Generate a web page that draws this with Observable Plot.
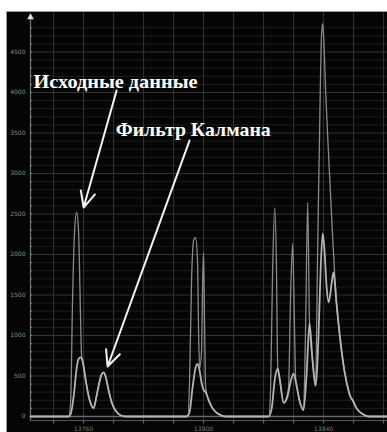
<!DOCTYPE html>
<html><head><meta charset="utf-8">
<script src="https://cdn.jsdelivr.net/npm/d3@7"></script>
<script src="https://cdn.jsdelivr.net/npm/@observablehq/plot@0.6"></script>
<style>
html,body{margin:0;padding:0;background:#fff;width:387px;height:432px;overflow:hidden}
#frame{position:absolute;left:6px;top:11px;width:380px;height:420px;border-top:1px solid #9a9a9a;border-left:1px solid #9a9a9a;background:#050505}
#frame svg{display:block}
</style></head><body><div id="frame"></div>
<script>
// Series names (annotation labels)
const seriesNames = ["Исходные данные", "Фильтр Калмана"];

// Raw data: [sample index, value]
const rawData = [
  [13742.3,0],[13755,0],[13755.7,200],[13756.3,1400],[13757,2300],[13757.7,2520],[13758.3,2300],[13759,1200],
  [13759.3,760],[13759.7,680],[13760.7,450],[13761.7,250],[13762.7,130],[13763.3,100],[13764.3,250],[13765.3,430],
  [13766,520],[13766.7,545],[13767.3,500],[13768.3,330],[13769.3,180],[13770.7,70],[13772.3,15],[13774,0],
  [13794.7,0],[13795.3,400],[13796,1700],[13796.7,2180],[13797.3,2210],[13798,1900],[13798.3,1100],[13798.7,600],
  [13799.3,800],[13799.7,1700],[13800,2025],[13800.3,1200],[13800.7,350],[13801.7,200],[13803,100],[13805,30],[13807.3,0],
  [13821.7,0],[13822.3,300],[13823,1800],[13823.7,2580],[13824.3,1800],[13824.7,620],[13825.3,480],[13826.7,170],
  [13828.3,350],[13829,1500],[13829.7,2136],[13830.3,1100],[13830.7,460],[13831,380],[13832.3,150],[13833.3,80],
  [13834,1100],[13834.7,2642],[13835.3,1150],[13836.3,700],[13837.3,380],[13838,2000],[13838.7,3600],[13839.3,4700],
  [13839.7,4850],[13840,4700],[13840.7,4000],[13841.7,3200],[13842.7,2450],[13843.7,1750],[13844.3,1400],[13845.7,900],
  [13847,550],[13848.3,320],[13849,240],[13849.7,200],[13851,100],[13853,30],[13855,0],[13861.3,0]
];

// Kalman filter output: [sample index, value]
const kalmanData = [
  [13742.3,0],[13755,0],[13755.7,30],[13756.7,250],[13757.7,600],[13758.3,710],[13759,730],[13759.7,680],
  [13760.7,450],[13761.7,250],[13762.7,130],[13763.3,100],[13764.3,250],[13765.3,430],[13766,520],[13766.7,545],
  [13767.3,500],[13768.3,330],[13769.3,180],[13770.7,70],[13772.3,15],[13774,0],
  [13794.3,0],[13795.3,50],[13796.3,350],[13797.3,600],[13798,650],[13798.7,560],[13799.3,420],[13800,330],
  [13800.7,300],[13801.7,200],[13803,100],[13805,30],[13807.3,0],
  [13821.7,0],[13822.7,100],[13823.7,450],[13824.7,590],[13825.3,480],[13826.7,170],[13828,250],[13829,430],
  [13830,530],[13831,380],[13832.3,150],[13833.3,80],[13834.3,500],[13835.3,1150],[13836.3,700],[13837.3,380],
  [13838.3,1000],[13839,1800],[13839.7,2260],[13840.3,2050],[13841,1600],[13841.7,1410],[13842.7,1650],[13843.3,1780],
  [13844.3,1400],[13845.7,900],[13847,550],[13848.3,320],[13849,240],[13849.7,200],[13851,100],[13853,30],[13855,0],[13861.3,0]
];

// Axis ticks
const xDomain = [13742.3, 13861.3];
const yDomain = [0, 4988];
const xTickLabels = [13760, 13800, 13840];
const xGrid = [13750,13760,13770,13780,13790,13800,13810,13820,13830,13840,13850,13860];
const yTickValues = [0,500,1000,1500,2000,2500,3000,3500,4000,4500];
const yMinor = d3.range(100, 4900, 100).filter(v => v % 500 !== 0);

// Annotations: label position and arrows (data units)
const labelX = [13743.3, 13770.7];
const labelY = [4062, 3469];
const labelWidths = [164, 155];
const arrowFrom = [[13771, 4025], [13795.3, 3407]];
const arrowTo = [[13760, 2580], [13768, 617]];

const labels = seriesNames.map((t, i) => ({text: t, x: labelX[i], y: labelY[i]}));
const arrows = arrowFrom.map((f, i) => ({x1: f[0], y1: f[1], x2: arrowTo[i][0], y2: arrowTo[i][1]}));
const x0 = xDomain[0];

const chart = Plot.plot({
  width: 380, height: 420,
  marginLeft: 23, marginRight: 0, marginTop: 0, marginBottom: 16,
  x: {domain: xDomain, axis: null},
  y: {domain: yDomain, axis: null},
  style: {background: "transparent", color: "#888", fontFamily: "DejaVu Sans"},
  marks: [
    Plot.ruleY(yMinor, {stroke: "#1b1b1b", strokeWidth: 1}),
    Plot.ruleY(yTickValues.slice(1), {stroke: "#333", strokeWidth: 1}),
    Plot.ruleX(xGrid, {y1: -50, y2: yDomain[1], stroke: "#333", strokeWidth: 1}),
    Plot.ruleY([0], {x1: x0, x2: xDomain[1], stroke: "#6a6a6a", strokeWidth: 1.5}),
    Plot.ruleY([-50], {x1: x0, x2: xDomain[1], stroke: "#5a5a5a", strokeWidth: 1}),
    Plot.ruleX([x0], {y1: -50, y2: 4950, stroke: "#777", strokeWidth: 1.2}),
    Plot.ruleY(d3.range(0, 4900, 100), {x1: x0, x2: x0 + 0.6, stroke: "#888"}),
    Plot.ruleX(xGrid, {y1: -55, y2: -90, stroke: "#777"}),
    Plot.text(xTickLabels, {x: d => d, y: -150, text: d => String(d), fill: "#7a7a7a", fontSize: 6}),
    Plot.text(yTickValues, {x: x0, y: d => d, text: d => String(d), textAnchor: "end", dx: -5, fill: "#8a8a8a", fontSize: 6}),
    Plot.dot([4930], {x: x0, y: d => d, symbol: "triangle", r: 2.5, fill: "#ddd"}),
    Plot.line(rawData, {x: d => d[0], y: d => d[1], stroke: "#8a8a8a", strokeWidth: 1.3, curve: "monotone-x"}),
    Plot.line(kalmanData, {x: d => d[0], y: d => d[1], stroke: "#b5b5b5", strokeWidth: 1.8, curve: "monotone-x"}),
    Plot.arrow(arrows, {x1: "x1", y1: "y1", x2: "x2", y2: "y2", stroke: "#f4f4f4", strokeWidth: 2, headLength: 13, headAngle: 50}),
    Plot.text(labels, {x: "x", y: "y", text: "text", textAnchor: "start", lineAnchor: "bottom", fill: "#fff",
      fontSize: 19, fontWeight: "bold", fontFamily: "Liberation Serif"})
  ]
});
document.getElementById("frame").appendChild(chart);
d3.select(chart).selectAll("text").each(function() {
  const i = seriesNames.indexOf(this.textContent);
  if (i >= 0) {
    this.setAttribute("textLength", labelWidths[i]);
    this.setAttribute("lengthAdjust", "spacingAndGlyphs");
  }
});
</script>
</body></html>
